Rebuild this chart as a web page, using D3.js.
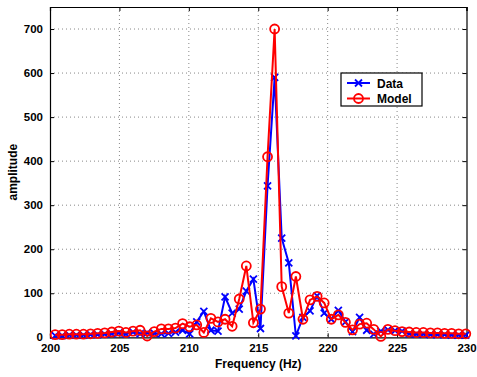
<!DOCTYPE html>
<html>
<head>
<meta charset="utf-8">
<script src="https://cdn.jsdelivr.net/npm/d3@7"></script>
<style>
  body { margin: 0; background: #fff; }
  text { font-family: "Liberation Sans", Arial, sans-serif; font-weight: bold; }
</style>
</head>
<body>
<div id="chart"></div>
<script>
// frequency bins (Hz), 0.51 Hz apart
var f0 = 200.37, df = 0.51;
var freqs = d3.range(59).map(function(i) { return +(f0 + i * df).toFixed(2); });

// measured spectrum
var dataAmp = [4, 4, 5, 5, 5, 6, 6, 7, 8,
  10, 7, 12, 8, 10, 9, 8, 9, 12, 16,
  8, 35, 59, 16, 14, 92, 55, 64, 105, 132,
  20, 344, 590, 225, 169, 3, 45, 60, 94, 55,
  41, 61, 35, 13, 45, 16, 7, 14, 17, 15,
  14, 8, 7, 7, 6, 6, 6, 5, 5, 5];

// model spectrum
var modelAmp = [6, 6, 7, 7, 7, 8, 9, 10, 12,
  14, 11, 14, 16, 3, 13, 19, 19, 21, 31,
  24, 28, 11, 43, 35, 41, 25, 87, 162, 33,
  64, 410, 700, 115, 55, 138, 41, 85, 93, 78,
  41, 51, 34, 17, 30, 32, 18, 2, 18, 15,
  13, 12, 11, 11, 10, 10, 9, 9, 8, 8];

var xTicks = [200, 205, 210, 215, 220, 225, 230];
var yTicks = [0, 100, 200, 300, 400, 500, 600, 700];

var W = 477, H = 377;
var margin = {top: 7, right: 10, bottom: 40, left: 50};
var width = 466.5 - margin.left, height = 337.3 - margin.top;

var svg = d3.select("#chart").append("svg")
    .attr("width", W).attr("height", H);

var g = svg.append("g")
    .attr("transform", "translate(" + margin.left + "," + margin.top + ")");

var x = d3.scaleLinear().domain([200, 230]).range([0, width]);
var y = d3.scaleLinear().domain([0, 750]).range([height, 0]);

// dotted grid
g.append("g").selectAll("line").data(xTicks.slice(1, -1)).enter().append("line")
    .attr("x1", function(d) { return x(d); }).attr("x2", function(d) { return x(d); })
    .attr("y1", 0).attr("y2", height)
    .attr("stroke", "#888").attr("stroke-width", 1).attr("stroke-dasharray", "1,3");
g.append("g").selectAll("line").data(yTicks.slice(1)).enter().append("line")
    .attr("y1", function(d) { return y(d); }).attr("y2", function(d) { return y(d); })
    .attr("x1", 0).attr("x2", width)
    .attr("stroke", "#888").attr("stroke-width", 1).attr("stroke-dasharray", "1,3");

// axes, ticks pointing inward
var fs = "11.5px";
var xb = g.append("g").attr("transform", "translate(0," + height + ")")
    .call(d3.axisBottom(x).tickValues(xTicks).tickSize(-4).tickPadding(8));
var xt = g.append("g").call(d3.axisTop(x).tickValues(xTicks).tickSize(-4).tickFormat(""));
var yl = g.append("g").call(d3.axisLeft(y).tickValues(yTicks).tickSize(-4).tickPadding(7));
var yr = g.append("g").attr("transform", "translate(" + width + ",0)")
    .call(d3.axisRight(y).tickValues(yTicks).tickSize(-4).tickFormat(""));
[xb, xt, yl, yr].forEach(function(a) {
  a.select(".domain").attr("stroke", "#000").attr("stroke-width", 1.2);
  a.selectAll(".tick line").attr("stroke", "#000");
  a.selectAll("text").attr("font-size", fs).attr("fill", "#000")
    .style("font-family", "'Liberation Sans', Arial, sans-serif").style("font-weight", "bold");
});
xb.selectAll("text").attr("dy", "0.6em");

// series
var pts = function(arr) { return freqs.map(function(f, i) { return [f, arr[i]]; }); };
var line = d3.line().x(function(d) { return x(d[0]); }).y(function(d) { return y(d[1]); });

var plot = g.append("g");

plot.append("path").datum(pts(dataAmp))
    .attr("fill", "none").attr("stroke", "#0000ff").attr("stroke-width", 2).attr("d", line);
plot.append("g").selectAll("path").data(pts(dataAmp)).enter().append("path")
    .attr("transform", function(d) { return "translate(" + x(d[0]) + "," + y(d[1]) + ")"; })
    .attr("d", "M-3.5,-3.5L3.5,3.5M-3.5,3.5L3.5,-3.5")
    .attr("stroke", "#0000ff").attr("stroke-width", 1.8);

plot.append("path").datum(pts(modelAmp))
    .attr("fill", "none").attr("stroke", "#ff0000").attr("stroke-width", 2).attr("d", line);
plot.append("g").selectAll("circle").data(pts(modelAmp)).enter().append("circle")
    .attr("cx", function(d) { return x(d[0]); }).attr("cy", function(d) { return y(d[1]); })
    .attr("r", 4.5).attr("fill", "none").attr("stroke", "#ff0000").attr("stroke-width", 1.8);

// axis labels
svg.append("text").attr("x", margin.left + width / 2).attr("y", 368)
    .attr("text-anchor", "middle").attr("font-size", "12px").text("Frequency (Hz)");
svg.append("text").attr("transform", "translate(17," + (margin.top + height / 2) + ") rotate(-90)")
    .attr("text-anchor", "middle").attr("font-size", "12px").text("amplitude");

// legend
var lg = svg.append("g").attr("transform", "translate(341,73)");
lg.append("rect").attr("width", 81).attr("height", 33)
    .attr("fill", "#fff").attr("stroke", "#000").attr("stroke-width", 1.2);
var items = [{name: "Data", color: "#0000ff", mark: "x"}, {name: "Model", color: "#ff0000", mark: "o"}];
items.forEach(function(it, i) {
  var yy = 10 + i * 15.5;
  lg.append("line").attr("x1", 6).attr("x2", 29).attr("y1", yy).attr("y2", yy)
    .attr("stroke", it.color).attr("stroke-width", 2);
  if (it.mark == "x") {
    lg.append("path").attr("transform", "translate(17.5," + yy + ")")
      .attr("d", "M-3.5,-3.5L3.5,3.5M-3.5,3.5L3.5,-3.5")
      .attr("stroke", it.color).attr("stroke-width", 1.8);
  } else {
    lg.append("circle").attr("cx", 17.5).attr("cy", yy).attr("r", 4.5)
      .attr("fill", "none").attr("stroke", it.color).attr("stroke-width", 1.8);
  }
  lg.append("text").attr("x", 36).attr("y", yy + 4.5).attr("font-size", "12px").text(it.name);
});
</script>
</body>
</html>
